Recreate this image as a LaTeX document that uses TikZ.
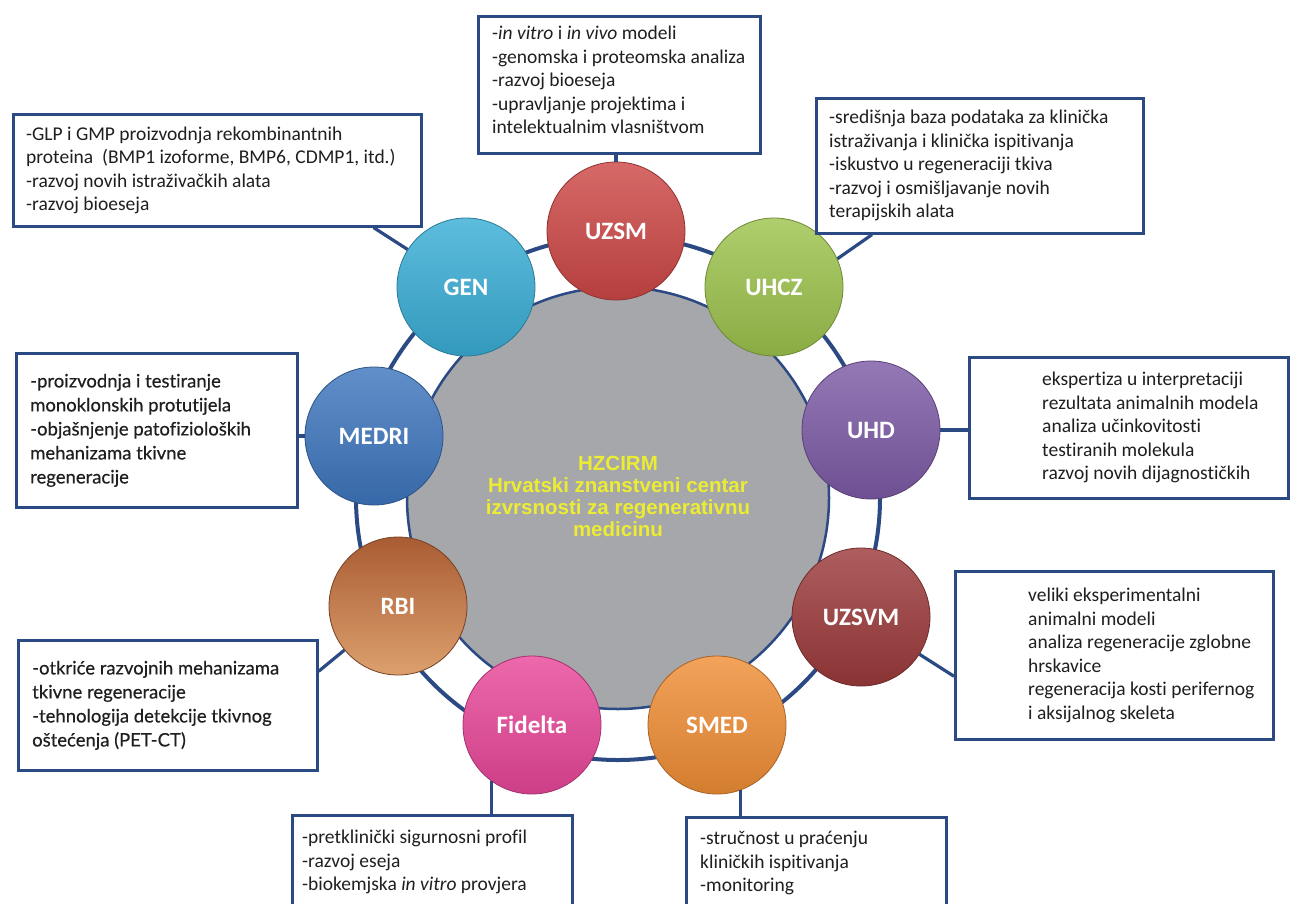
\documentclass[tikz,border=0pt]{standalone}
\usepackage{fontspec}
\setmainfont{Carlito}[Ligatures=NoCommon]
\newfontfamily\latofont{Lato}[Ligatures=NoCommon, FakeBold=0.4]
\newfontfamily\arialfont{Liberation Sans}
\usetikzlibrary{positioning}

\definecolor{navy}{RGB}{43,74,132}
\definecolor{hubgray}{RGB}{166,167,171}
\definecolor{hubyellow}{RGB}{236,236,50}
\definecolor{uzsmred}{RGB}{205,72,70}
\definecolor{gencyan}{RGB}{58,174,214}
\definecolor{uhczgreen}{RGB}{157,195,77}
\definecolor{medriblue}{RGB}{62,118,190}
\definecolor{uhdpurple}{RGB}{125,91,166}
\definecolor{uzsvmred}{RGB}{156,58,59}
\definecolor{smedorange}{RGB}{240,142,54}
\definecolor{fideltapink}{RGB}{233,71,154}
\definecolor{rbitop}{RGB}{169,92,51}
\definecolor{rbibottom}{RGB}{220,160,110}

\begin{document}
\begin{tikzpicture}[x=1pt,y=-1pt,
  unit/.style={circle, minimum size=138pt, inner sep=0pt, text=white,
    font=\fontsize{25}{30}\selectfont\bfseries, draw=#1!70!black, line width=0.8pt,
    top color=#1!82!white, bottom color=#1!88!black},
  infobox/.style={draw=navy, line width=2.6pt, fill=white, anchor=north west, inner sep=0pt},
  infotext/.style={align=left, inner sep=0pt, text=black!88,
    font=\fontsize{19.5}{23.5}\selectfont},
  latotext/.style={infotext, font=\latofont\fontsize{18.5}{24}\selectfont},
  link/.style={draw=navy, line width=3.2pt}]
	\useasboundingbox (0,0) rectangle (1292,903);
	\clip (0,0) rectangle (1292,903);
	% hub and ring
	\node[circle, minimum size=422pt, fill=hubgray, draw=navy, line width=2.5pt] (hub) at (618,498) {};
	\draw[navy, line width=4pt] (hub.center) circle[radius=262pt];
	\node[align=center, text=hubyellow, font=\arialfont\bfseries\fontsize{20.5}{22}\selectfont] (hubtxt) at (618,496)
	  {HZCIRM\\Hrvatski znanstveni centar\\izvrsnosti za regenerativnu\\medicinu};
	% partners
	\node[unit=uzsmred] (uzsm) at (616,231) {UZSM};
	\node[unit=gencyan] (gen) at (466,287) {GEN};
	\node[unit=uhczgreen] (uhcz) at (774,287) {UHCZ};
	\node[unit=medriblue] (medri) at (374,436) {MEDRI};
	\node[unit=uhdpurple] (uhd) at (871,430) {UHD};
	\node[unit=rbitop, top color=rbitop, bottom color=rbibottom] (rbi) at (398,606) {RBI};
	\node[unit=uzsvmred] (uzsvm) at (861,617) {UZSVM};
	\node[unit=fideltapink] (fidelta) at (532,725) {Fidelta};
	\node[unit=smedorange] (smed) at (717,725) {SMED};
	% boxes
	\node[infobox, minimum width=282pt, minimum height=137pt] (uzsmbox) at (477,15) {};
	\node[infotext, right=15pt of uzsmbox.west, yshift=5pt] (uzsmtxt)
	  {-\textit{in vitro} i \textit{in vivo} modeli\\-genomska i proteomska analiza\\-razvoj bioeseja\\-upravljanje projektima i\\intelektualnim vlasništvom};
	\node[infobox, minimum width=408pt, minimum height=112pt] (genbox) at (12,113) {};
	\node[infotext, right=14pt of genbox.west] (gentxt)
	  {-GLP i GMP proizvodnja rekombinantnih\\proteina~ (BMP1 izoforme, BMP6, CDMP1, itd.)\\-razvoj novih istraživačkih alata\\-razvoj bioeseja};
	\node[infobox, minimum width=327pt, minimum height=135pt] (uhczbox) at (815,97) {};
	\node[infotext, right=14pt of uhczbox.west] (uhcztxt)
	  {-središnja baza podataka za klinička\\istraživanja i klinička ispitivanja\\-iskustvo u regeneraciji tkiva\\-razvoj i osmišljavanje novih\\terapijskih alata};
	\node[infobox, minimum width=281pt, minimum height=154pt] (medribox) at (15,352) {};
	\node[latotext, right=15pt of medribox.west] (medritxt)
	  {-proizvodnja i testiranje\\monoklonskih protutijela\\-objašnjenje patofizioloških\\mehanizama tkivne\\regeneracije};
	\node[infobox, minimum width=319pt, minimum height=141pt] (uhdbox) at (968,356) {};
	\node[infotext, right=74pt of uhdbox.west] (uhdtxt)
	  {ekspertiza u interpretaciji\\rezultata animalnih modela\\analiza učinkovitosti\\testiranih molekula\\razvoj novih dijagnostičkih};
	\node[infobox, minimum width=299pt, minimum height=130pt] (rbibox) at (17,639) {};
	\node[latotext, right=15pt of rbibox.west] (rbitxt)
	  {-otkriće razvojnih mehanizama\\tkivne regeneracije\\-tehnologija detekcije tkivnog\\oštećenja (PET-CT)};
	\node[infobox, minimum width=318pt, minimum height=168pt] (uzsvmbox) at (954,570) {};
	\node[infotext, right=74pt of uzsvmbox.west] (uzsvmtxt)
	  {veliki eksperimentalni\\animalni modeli\\analiza regeneracije zglobne\\hrskavice\\regeneracija kosti perifernog\\i aksijalnog skeleta};
	\node[infobox, minimum width=280pt, minimum height=112pt] (fideltabox) at (291,814) {};
	\node[infotext, right=11pt of fideltabox.west, yshift=9pt] (fideltatxt)
	  {-pretklinički sigurnosni profil\\-razvoj eseja\\-biokemjska \textit{in vitro} provjera};
	\node[infobox, minimum width=260pt, minimum height=112pt] (smedbox) at (685,816) {};
	\node[infotext, right=15pt of smedbox.west, yshift=10pt] (smedtxt)
	  {-stručnost u praćenju\\kliničkih ispitivanja\\-monitoring};
	% links
	\draw[link] (uzsm.north) -- (uzsm.north |- uzsmbox.south);
	\draw[link] (gen) -- ([xshift=-49pt]genbox.south east);
	\draw[link] (uhcz.24) -- ([xshift=57pt]uhczbox.south west);
	\draw[link] (medri) -- (medri -| medribox.east);
	\draw[link] (uhd) -- (uhd -| uhdbox.west);
	\draw[link] (uzsvm) -- ([yshift=-21pt]uzsvmbox.west);
	\draw[link] (rbi) -- ([yshift=34pt]rbibox.east);
	\draw[link] (fidelta.-126) -- (fidelta.-126 |- fideltabox.north);
	\draw[link] (smed.-70) -- (smed.-70 |- smedbox.north);
\end{tikzpicture}
\end{document}
